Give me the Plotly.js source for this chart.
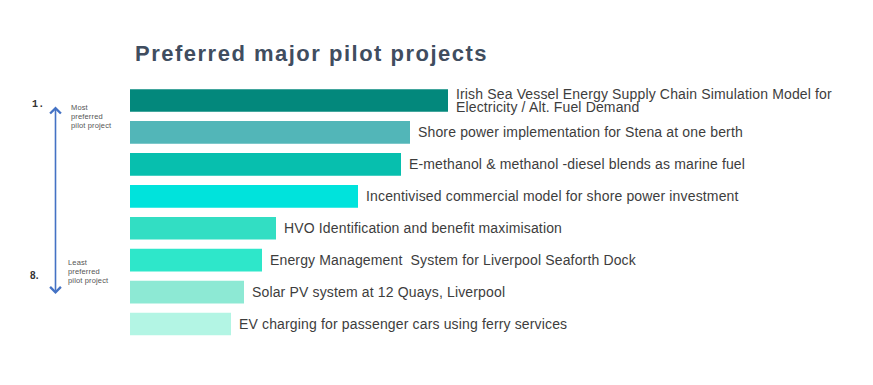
<!DOCTYPE html>
<html>
<head>
<meta charset="utf-8">
<script src="https://cdn.plot.ly/plotly-3.0.1.min.js"></script>
<style>
html,body{margin:0;padding:0;background:#fff;}
#chart{width:873px;height:385px;}
.gtitle{letter-spacing:1.5px;}
.annotation-text{letter-spacing:0.15px;}
</style>
</head>
<body>
<div id="chart"></div>
<script>
// Data (ranked pilot projects, bar length = preference score)
const projects = [
  "Irish Sea Vessel Energy Supply Chain Simulation Model for<br>Electricity / Alt. Fuel Demand",
  "Shore power implementation for Stena at one berth",
  "E-methanol & methanol -diesel blends as marine fuel",
  "Incentivised commercial model for shore power investment",
  "HVO Identification and benefit maximisation",
  "Energy Management  System for Liverpool Seaforth Dock",
  "Solar PV system at 12 Quays, Liverpool",
  "EV charging for passenger cars using ferry services"
];
const scores = [318, 280, 271, 228, 146, 132, 114, 101];
const barColors = ["#03887c", "#52b6b8", "#07bfae", "#00e3dc", "#32dec3", "#2ee7ca", "#8de9d4", "#b3f5e4"];
const rankTop = "1.";
const rankBottom = "8.";
const topNote = ["Most", "preferred", "pilot project"];
const bottomNote = ["Least", "preferred", "pilot project"];

const W = 873, H = 385;
const L = 130, R = 3, T = 83.5, B = 45;
const pw = W - L - R, ph = H - T - B;
const px = x => (x - L) / pw;
const py = y => (H - B - y) / ph;

const cats = projects.map((p, i) => "p" + i);

const annotations = [];
// bar labels
projects.forEach((p, i) => {
  const lines = p.split("<br>");
  const n = lines.length;
  lines.forEach((ln, j) => {
    annotations.push({
      x: scores[i], y: cats[i], xref: "x", yref: "y",
      text: ln, showarrow: false, xanchor: "left", yanchor: "middle",
      xshift: 6, yshift: ((n - 1) / 2 - j) * 13,
      font: {family: "Liberation Sans, Arial, sans-serif", size: 14, color: "#3d3d3d"}
    });
  });
});
// rank numbers
annotations.push({x: px(30), y: py(104), xref: "paper", yref: "paper", text: "<b>" + rankTop + "</b>",
  showarrow: false, xanchor: "left", yanchor: "middle",
  font: {family: "Liberation Mono, Courier New, monospace", size: 10, color: "#333"}});
annotations.push({x: px(28), y: py(275), xref: "paper", yref: "paper", text: "<b>" + rankBottom + "</b>",
  showarrow: false, xanchor: "left", yanchor: "middle",
  font: {family: "Liberation Sans, Arial, sans-serif", size: 10, color: "#333"}});
// notes
topNote.forEach((t, j) => annotations.push({x: px(69), y: py(107 + j * 9), xref: "paper", yref: "paper", text: t,
  showarrow: false, xanchor: "left", yanchor: "middle",
  font: {family: "Liberation Sans, Arial, sans-serif", size: 7.5, color: "#555"}}));
bottomNote.forEach((t, j) => annotations.push({x: px(66), y: py(262 + j * 9), xref: "paper", yref: "paper", text: t,
  showarrow: false, xanchor: "left", yanchor: "middle",
  font: {family: "Liberation Sans, Arial, sans-serif", size: 7.5, color: "#555"}}));
// double-headed arrow
annotations.push({x: px(55.5), y: py(106), xref: "paper", yref: "paper", text: "",
  showarrow: true, ax: 0, ay: 189, axref: "pixel", ayref: "pixel",
  arrowside: "end+start", arrowhead: 4, startarrowhead: 4, arrowsize: 1.3, startarrowsize: 1.3,
  arrowwidth: 1.6, arrowcolor: "#4472c4"});

const trace = {
  type: "bar", orientation: "h",
  x: scores, y: cats,
  marker: {color: barColors, line: {width: 0}},
  width: 0.71,
  hoverinfo: "skip"
};

const layout = {
  width: W, height: H,
  margin: {l: L, r: R, t: T, b: B, pad: 0},
  paper_bgcolor: "#fff", plot_bgcolor: "#fff",
  showlegend: false,
  title: {
    text: "<b>Preferred major pilot projects</b>",
    xref: "container", yref: "container",
    x: 135 / W, xanchor: "left",
    y: 1 - 46 / H, yanchor: "top",
    font: {family: "Liberation Sans, Arial, sans-serif", size: 22, color: "#404d5f"}
  },
  xaxis: {range: [0, pw], showgrid: false, zeroline: false, showticklabels: false, showline: false, fixedrange: true},
  yaxis: {type: "category", autorange: "reversed", showgrid: false, zeroline: false, showticklabels: false, showline: false, fixedrange: true},
  annotations: annotations
};

Plotly.newPlot("chart", [trace], layout, {displayModeBar: false, staticPlot: true});
</script>
</body>
</html>
